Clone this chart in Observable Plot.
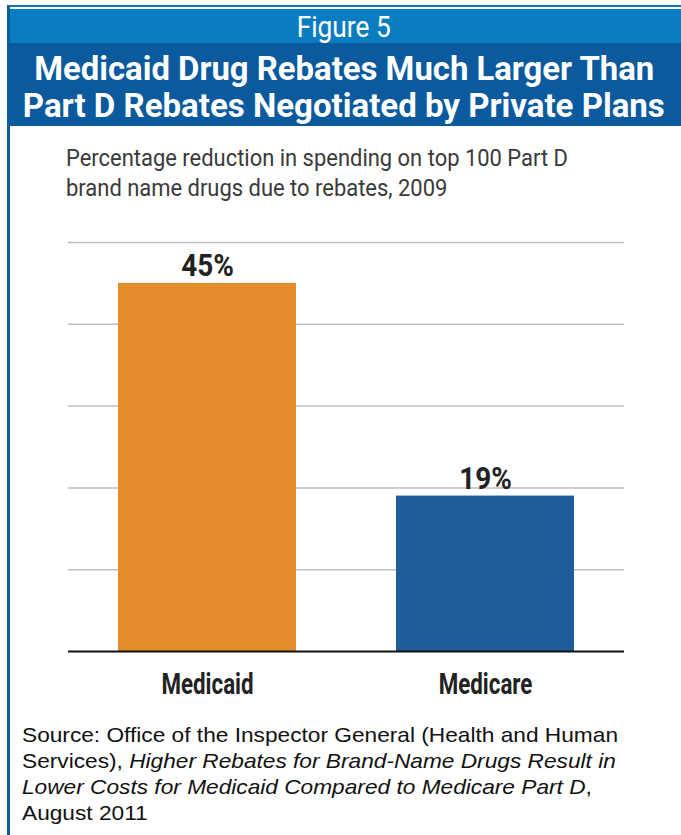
<!DOCTYPE html>
<html>
<head>
<meta charset="utf-8">
<script src="https://cdn.jsdelivr.net/npm/d3@7"></script>
<script src="https://cdn.jsdelivr.net/npm/@observablehq/plot@0.6"></script>
<style>
  html, body { margin: 0; padding: 0; background: #fff; }
  #wrap { position: relative; width: 681px; height: 835px; overflow: hidden; background: #fff; font-family: Roboto, sans-serif; }
  .line { white-space: nowrap; }
  .line > span { display: inline-block; white-space: nowrap; }
  #topline { position: absolute; left: 7px; top: 5px; width: 674px; height: 2px; background: #0a7cc1; }
  #leftline { position: absolute; left: 7px; top: 5px; width: 3px; height: 830px; background: #0b5da0; }
  #band1 { position: absolute; left: 7px; top: 9px; width: 674px; height: 34px; background: #0a7cc1; color: #fff;
           text-align: center; font-size: 30px; line-height: 34px; padding-top: 1px; box-sizing: border-box; }
  #band2 { position: absolute; left: 7px; top: 43px; width: 674px; height: 83px; background: #0b5a9e; color: #fff;
           text-align: center; font-size: 33px; font-weight: bold; line-height: 36px; padding-top: 5px; box-sizing: border-box; }
  #band2 .line > span { line-height: 1; vertical-align: middle; }
  #subtitle { position: absolute; left: 66px; top: 144px; font-size: 23px; line-height: 30px; color: #3a3a3a; }
  #subtitle .line > span, #source .line > span { transform-origin: left center; }
  #band1 .line > span, #band2 .line > span { transform-origin: center center; }
  #chart { position: absolute; left: 0; top: 210px; }
  #source { position: absolute; left: 22px; top: 722px; font-family: "Liberation Sans", Arial, sans-serif; font-size: 21px; line-height: 26px; color: #111; }
</style>
</head>
<body>
<div id="wrap">
  <div id="topline"></div>
  <div id="band1"><div class="line"><span data-w="94">Figure 5</span></div></div>
  <div id="band2">
    <div class="line"><span data-w="620">Medicaid Drug Rebates Much Larger Than</span></div>
    <div class="line"><span data-w="642">Part D Rebates Negotiated by Private Plans</span></div>
  </div>
  <div id="leftline"></div>
  <div id="subtitle">
    <div class="line"><span data-group="sub" data-w="502">Percentage reduction in spending on top 100 Part D</span></div>
    <div class="line"><span data-group="sub">brand name drugs due to rebates, 2009</span></div>
  </div>
  <div id="chart"></div>
  <div id="source">
    <div class="line"><span data-group="src" data-w="596">Source: Office of the Inspector General (Health and Human</span></div>
    <div class="line"><span data-group="src">Services), <i>Higher Rebates for Brand-Name Drugs Result in</i></span></div>
    <div class="line"><span data-group="src"><i>Lower Costs for Medicaid Compared to Medicare Part D</i>,</span></div>
    <div class="line"><span data-group="src">August 2011</span></div>
  </div>
</div>
<script>
const categories = ["Medicaid", "Medicare"];
const values = [45, 19];
const barColors = ["#e38d2c", "#1f5c99"];
const gridTicks = [10, 20, 30, 40, 50];

const data = categories.map((c, i) => ({category: c, value: values[i], color: barColors[i]}));

const chart = Plot.plot({
  width: 681,
  height: 500,
  marginLeft: 68,
  marginRight: 57,
  marginTop: 32,
  marginBottom: 59,
  style: {fontFamily: "Roboto, sans-serif", background: "transparent", overflow: "visible"},
  x: {domain: categories, paddingInner: 0.36, paddingOuter: 0.18, label: null},
  y: {domain: [0, 50], axis: null},
  marks: [
    Plot.ruleY(gridTicks, {stroke: "#bfbfbf", strokeWidth: 1.5}),
    Plot.barY(data, {x: "category", y: "value", fill: "color"}),
    Plot.ruleY([0], {stroke: "#111", strokeWidth: 2}),
    Plot.text(data, {x: "category", y: "value", text: d => d.value + "%", lineAnchor: "bottom", dy: -7,
      fontSize: 31, fontWeight: "bold", fill: "#222"}),
    Plot.axisX({tickSize: 0, tickPadding: 22, fontSize: 29, fontWeight: "bold", fill: "#222", label: null})
  ]
});
document.getElementById("chart").appendChild(chart);

function fitAll() {
  const groups = {};
  const spans = document.querySelectorAll(".line > span");
  spans.forEach(s => { s.style.transform = "none"; });
  spans.forEach(s => {
    const w = s.getBoundingClientRect().width;
    if (s.dataset.w) {
      const k = +s.dataset.w / w;
      if (s.dataset.group) groups[s.dataset.group] = k;
      s.dataset.k = k;
    }
  });
  spans.forEach(s => {
    const k = s.dataset.w ? +s.dataset.k : groups[s.dataset.group];
    if (k) s.style.transform = `scaleX(${k})`;
  });
  chart.querySelectorAll('g[aria-label="text"] text, g[aria-label="x-axis tick label"] text').forEach(t => {
    t.removeAttribute("textLength");
    const isAxis = t.parentNode.getAttribute("aria-label").startsWith("x-axis");
    const w = t.getComputedTextLength();
    t.setAttribute("textLength", w * (isAxis ? 0.77 : 0.9));
    t.setAttribute("lengthAdjust", "spacingAndGlyphs");
  });
}
fitAll();
if (document.fonts && document.fonts.ready) document.fonts.ready.then(fitAll);
</script>
</body>
</html>
